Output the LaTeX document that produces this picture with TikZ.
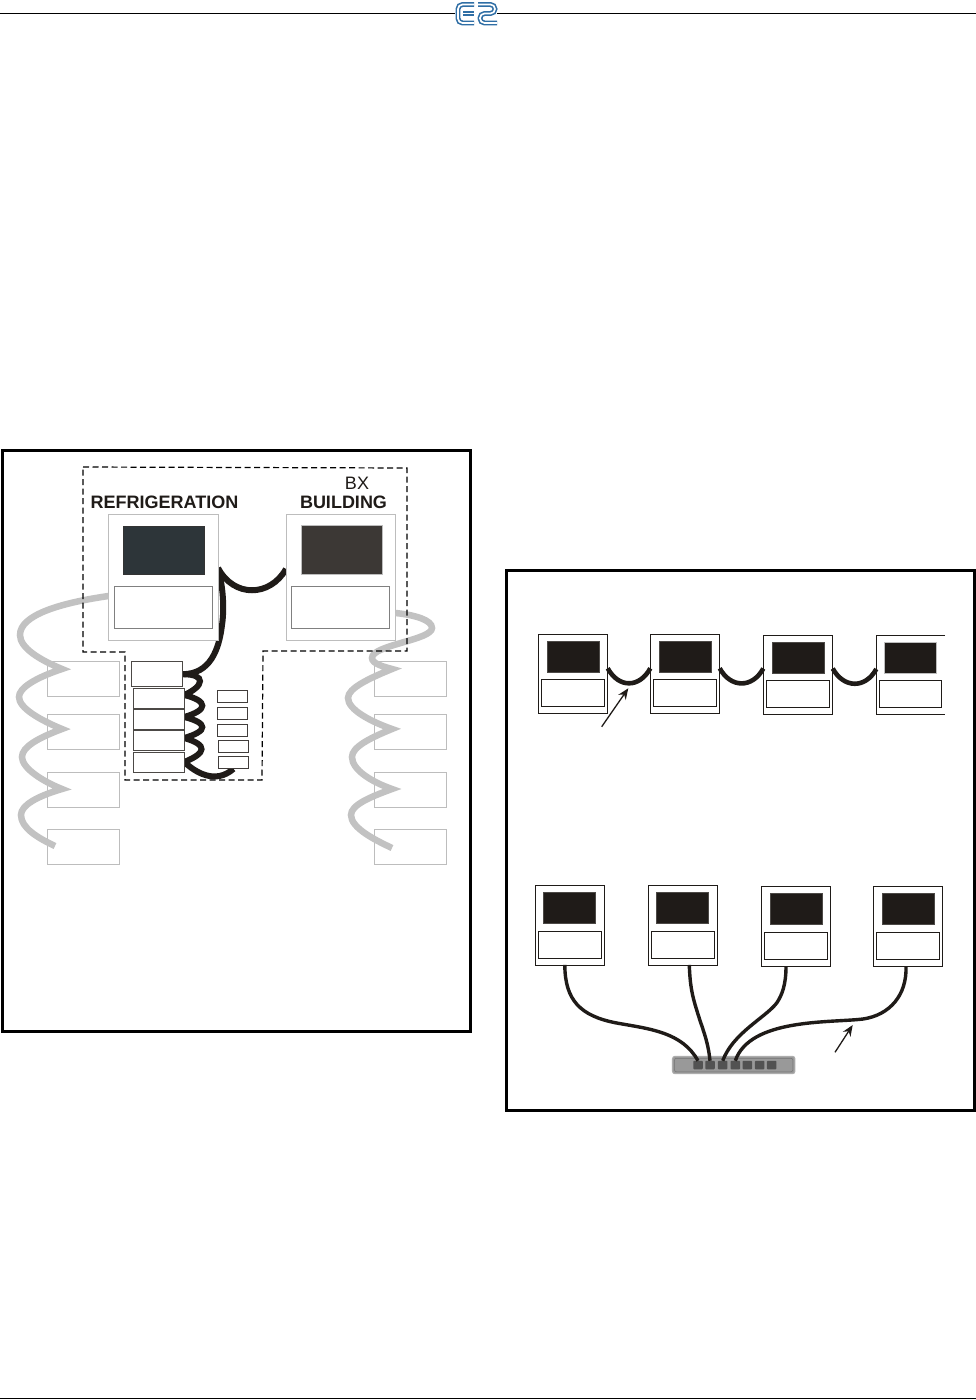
\documentclass[tikz,border=0pt]{standalone}
\usepackage{fontspec}
\setmainfont{Liberation Sans}
\usetikzlibrary{positioning, arrows.meta, calc}

\definecolor{inkblack}{HTML}{1F1B18}
\definecolor{palegray}{HTML}{BDBDBD}
\definecolor{logoblue}{HTML}{2F6EA5}

\pgfdeclarelayer{paper}
\pgfdeclarelayer{wires}
\pgfsetlayers{paper,wires,main}

\begin{document}
\begin{tikzpicture}[
  x=1pt, y=-1pt,
  box/.style={rectangle, draw, fill=white, inner sep=0pt, outer sep=0pt},
  bigunit/.style={box, draw=palegray, line width=1pt, minimum width=109.5pt, minimum height=126pt},
  bigpanel/.style={box, draw=gray, line width=0.9pt, minimum width=98pt, minimum height=42pt},
  bigscreen/.style={box, line width=0.6pt, minimum width=81.5pt, minimum height=48.5pt},
  sideunit/.style={box, draw=palegray, line width=0.9pt, minimum width=72.5pt, minimum height=35pt},
  stackunit/.style={box, draw=inkblack!80, line width=1pt, minimum width=51pt, minimum height=20pt},
  tinyunit/.style={box, draw=inkblack!85, line width=0.9pt, minimum width=30pt, minimum height=12pt},
  unit/.style={box, draw=inkblack, line width=0.8pt, minimum width=69.4pt, minimum height=79.5pt},
  panel/.style={box, draw=inkblack, line width=0.8pt, minimum width=62.4pt, minimum height=27pt},
  screen/.style={box, draw=inkblack!80, fill=inkblack, line width=0.7pt, minimum width=52pt, minimum height=31pt},
  port/.style={box, draw=none, fill=black!68, rounded corners=0.8pt, minimum width=9.5pt, minimum height=8.5pt},
  frame/.style={draw=black, line width=3pt},
  fence/.style={draw=black, line width=1.2pt, dash pattern=on 6pt off 3.5pt},
  wire/.style={draw=inkblack, line width=6pt},
  graywire/.style={draw=black!24, line width=6.5pt, miter limit=10},
  link/.style={draw=inkblack, line width=4.6pt},
  cable/.style={draw=inkblack, line width=3.4pt},
  pointer/.style={-{Stealth[length=11pt,width=9pt]}, draw=inkblack, line width=1.3pt},
  logo/.style={draw=logoblue, line width=1.6pt, double=white, double distance=1.7pt, rounded corners=4.5pt},
  heading/.style={font=\fontsize{18}{18}\selectfont\bfseries, text=inkblack, inner sep=0pt},
]
\useasboundingbox (0,0) rectangle (976,1400);
\begin{pgfonlayer}{paper}
\fill[white] (0,0) rectangle (976,1400);
\end{pgfonlayer}

% Page rules and logo
\draw[line width=1pt] (0,13) -- (455,13);
\draw[line width=1pt] (497,13) -- (976,13);
\draw[line width=1pt] (0,1398) -- (976,1398);
\draw[logo] (474,4.5) -- (458,4.5) -- (458,23) -- (474,23);
\draw[logo, rounded corners=0pt] (463,13.5) -- (474,13.5);
\draw[logo] (478,4.5) -- (495,4.5) -- (495,13.5) -- (480,13.5) -- (480,23) -- (497,23);

% Left frame
\draw[frame] (2,450) rectangle (470,1031);

% Side units
\foreach \idx/\y in {1/678.5, 2/731.5, 3/790, 4/846.8} {
  \node[sideunit] (lg\idx) at (83.2,\y) {};
  \node[sideunit] (rg\idx) at (410.5,\y) {};
}

% Controllers
\node[bigunit] (ref) at (163.25,577) {};
\node[bigpanel] (refpanel) at (163.5,607) {};
\node[bigscreen, draw=black!80, fill={rgb,255:red,45;green,53;blue,57}] (refscreen) at (164,550.5) {};
\node[bigunit] (bld) at (340.75,577) {};
\node[bigpanel] (bldpanel) at (340.5,607) {};
\node[bigscreen, draw=palegray, fill={rgb,255:red,60;green,56;blue,53}] (bldscreen) at (342,550) {};

\node[heading] (reflabel) at (164.5,502) {REFRIGERATION};
\node[heading] (bldlabel) at (343.5,502) {BUILDING};
\node[font=\fontsize{18}{18}\selectfont, text=inkblack, inner sep=0pt] (bxlabel) at (357,483) {BX};

% Gray loops
\coordinate (la) at (62,669);
\coordinate (lb) at (62,729);
\coordinate (lc) at (62,789);
\coordinate (ld) at (55,846);
\coordinate (ra) at (392,669);
\coordinate (rb) at (392,729);
\coordinate (rc) at (392,789);
\coordinate (rd) at (392,848);
\draw[graywire] ([yshift=-19pt]ref.west) .. controls (60,603) and (20,615) .. (20,635)
  .. controls (20,648) and (40,660) .. (la)
  .. controls (35,678) and (19,688) .. (19,697)
  .. controls (19,708) and (40,720) .. (lb)
  .. controls (38,738) and (22,747) .. (22,757)
  .. controls (22,768) and (42,781) .. (lc)
  .. controls (38,796) and (21,805) .. (21,815)
  .. controls (21,828) and (38,838) .. (ld);
\draw[graywire] ([yshift=-36pt]bld.east) .. controls (415,615) and (432,620) .. (432,628)
  .. controls (432,640) and (372,645) .. (372,658)
  .. controls (372,664) and (385,667) .. (ra)
  .. controls (370,678) and (348,688) .. (348,698)
  .. controls (348,710) and (372,722) .. (rb)
  .. controls (370,738) and (352,747) .. (352,757)
  .. controls (352,770) and (372,782) .. (rc)
  .. controls (370,797) and (351,805) .. (351,815)
  .. controls (351,828) and (375,840) .. (rd);

% Dashed fence
\draw[fence] (83,467) -- (407,468) -- (407,651) -- (263,651) -- (262,780) -- (125,780) -- (125,652) -- (83,652) -- cycle;

% Stacked units
\node[stackunit, minimum height=25pt] (s1) at (157.2,674.2) {};
\node[stackunit] (s2) at (158.8,698) {};
\node[stackunit] (s3) at (158.8,719) {};
\node[stackunit] (s4) at (158.8,740) {};
\node[stackunit] (s5) at (158.8,762) {};
\node[tinyunit] (m1) at (232.5,696) {};
\node[tinyunit] (m2) at (232.5,713) {};
\node[tinyunit] (m3) at (232.5,730) {};
\node[tinyunit] (m4) at (233,746) {};
\node[tinyunit] (m5) at (233.5,762.8) {};

% Black wires, behind the units
\begin{pgfonlayer}{wires}
\draw[wire] ([yshift=9pt]ref.east) .. controls +(16,30) and +(-16,28) .. ([yshift=8pt]bld.west);
\draw[wire] ([yshift=9pt]ref.east) .. controls (224,590) and (224,612) .. (222,625)
  .. controls (219,650) and (210,674) .. (s1.east);
\draw[wire] (s1.east) .. controls +(24,0) and +(20,-9) .. ([yshift=3pt]s2.east)
  .. controls +(24,6) and +(24,-7) .. ([yshift=2pt]s3.east)
  .. controls +(24,6) and +(24,-7) .. ([yshift=2pt]s4.east)
  .. controls +(24,7) and +(22,-9) .. (s5.east)
  .. controls (195,772) and (215,785) .. (m5.south);
\end{pgfonlayer}

% Right frame
\draw[frame] (506.5,570) rectangle (974.5,1110);

% Daisy chain row
\foreach \name/\x/\y in {t1/573/673.8, t2/685/673.8, t3/798/675} {
  \node[unit] (\name) at (\x,\y) {};
  \node[screen] (\name screen) at (\x,\y-17) {};
  \node[panel] (\name panel) at (\x,\y+19.2) {};
}
\node[box, draw=none, minimum width=68.7pt, minimum height=79.5pt] (t4) at (910.65,675) {};
\draw[line width=0.8pt, draw=inkblack] (t4.north east) -- (t4.north west) -- (t4.south west) -- (t4.south east);
\node[screen, draw=palegray] (t4screen) at (910.5,658) {};
\node[panel] (t4panel) at (910.5,694.2) {};

\draw[link] ([yshift=5.5pt]t1.east) .. controls +(11,20) and +(-11,20) .. ([yshift=5.5pt]t2.west);
\draw[link] ([yshift=5.5pt]t2.east) .. controls +(11,20) and +(-11,20) .. ([yshift=6.5pt]t3.west);
\draw[link] ([yshift=6.5pt]t3.east) .. controls +(11,20) and +(-11,20) .. ([yshift=6pt]t4.west);

\coordinate (topfoot) at (601.7,726.7);
\coordinate (toptip) at (628.3,688.3);
\draw[pointer] (topfoot) -- (toptip);

% Switched row
\foreach \name/\x/\y in {b1/569.8/925.2, b2/682.8/925.2, b3/796/926.4, b4/908/926.4} {
  \node[unit] (\name) at (\x,\y) {};
  \node[screen] (\name screen) at (\x,\y-17.3) {};
  \node[panel] (\name panel) at (\x,\y+19.2) {};
}

% Switch and its ports
\node[box, draw=black!32, fill=black!40, line width=1pt, rounded corners=2.5pt, minimum width=122.5pt, minimum height=17.4pt] (switch) at (733.7,1065) {};
\node[box, draw=black!55, fill=black!40, line width=0.5pt, rounded corners=2pt, minimum width=118.5pt, minimum height=13.5pt] (switchface) at (733.7,1065) {};
\foreach \idx/\x in {1/698, 2/710, 3/722.7, 4/735.3, 5/747.3, 6/759.7, 7/771.7} {
  \node[port] (p\idx) at (\x,1065) {};
}

% Cables down to the switch
\draw[cable] ([xshift=-5pt]b1.south) .. controls (565,1000) and (580,1016) .. (616.7,1023)
  .. controls (650,1029) and (682,1032) .. (p1.north);
\draw[cable] ([xshift=6.5pt]b2.south) .. controls (690,985) and (692,995) .. (696.7,1010)
  .. controls (702,1028) and (708,1040) .. (p2.north);
\draw[cable] ([xshift=-10pt]b3.south) .. controls (786,985) and (782,995) .. (776.7,1003)
  .. controls (765,1018) and (733,1033) .. (p3.north);
\draw[cable] ([xshift=-2pt]b4.south) .. controls (907,995) and (890,1015) .. (863,1019)
  .. controls (830,1023) and (750,1018) .. (p4.north);

\coordinate (botfoot) at (835,1052.3);
\coordinate (bottip) at (852.7,1025);
\draw[pointer] (botfoot) -- (bottip);
\end{tikzpicture}
\end{document}
